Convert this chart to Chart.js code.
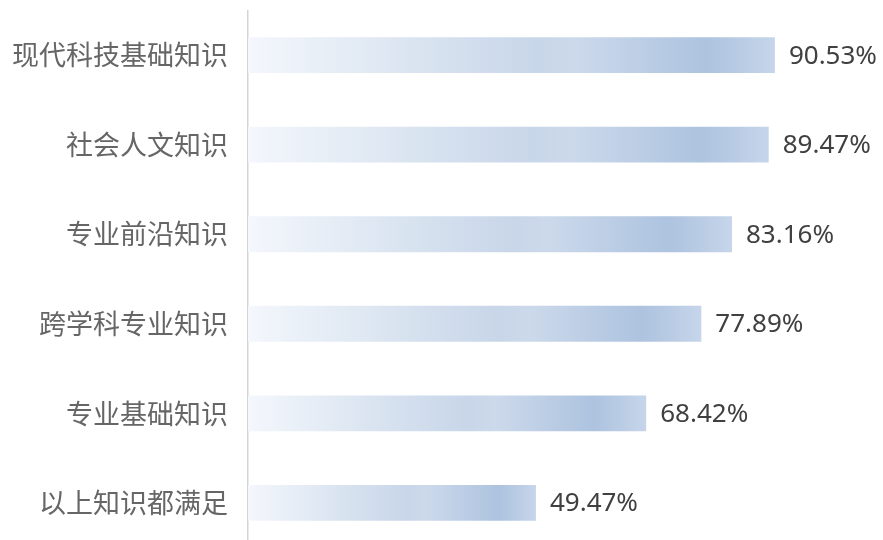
<!DOCTYPE html>
<html>
<head>
<meta charset="utf-8">
<script src="https://cdn.jsdelivr.net/npm/chart.js@4"></script>
<style>
  html, body { margin: 0; padding: 0; background: #fff; overflow: hidden; }
  canvas { display: block; }
</style>
</head>
<body>
<canvas id="knowChart" width="883" height="558"></canvas>
<script>
const categories = ['现代科技基础知识', '社会人文知识', '专业前沿知识', '跨学科专业知识', '专业基础知识', '以上知识都满足'];
const percentages = [90.53, 89.47, 83.16, 77.89, 68.42, 49.47];

// degradado por barra, de casi blanco a azul claro
function barGradient(context) {
    const chart = context.chart;
    const area = chart.chartArea;
    if (!area) return '#c6d5ea';
    const x = chart.scales.x;
    const x0 = x.getPixelForValue(0);
    const x1 = x.getPixelForValue(context.raw);
    const g = chart.ctx.createLinearGradient(x0, 0, x1, 0);
    g.addColorStop(0, '#f4f7fc');
    g.addColorStop(0.3, '#dbe5f1');
    g.addColorStop(0.55, '#c8d6e9');
    g.addColorStop(0.62, '#ccd9eb');
    g.addColorStop(0.87, '#adc3df');
    g.addColorStop(1, '#c6d5ea');
    return g;
}

// etiquetas de valor al final de cada barra
const valueLabels = {
    id: 'valueLabels',
    afterDatasetsDraw(chart) {
        const ctx = chart.ctx;
        const meta = chart.getDatasetMeta(0);
        ctx.save();
        ctx.font = '26px "Noto Sans", "Open Sans", sans-serif';
        ctx.fillStyle = '#404040';
        ctx.textAlign = 'left';
        ctx.textBaseline = 'middle';
        meta.data.forEach((bar, i) => {
            ctx.fillText(percentages[i].toFixed(2) + '%', bar.x + 14, bar.y + 1);
        });
        ctx.restore();
    }
};

new Chart(document.getElementById('knowChart'), {
    type: 'bar',
    data: {
        labels: categories,
        datasets: [{
            data: percentages,
            backgroundColor: barGradient,
            borderWidth: 0,
            categoryPercentage: 0.4,
            barPercentage: 1
        }]
    },
    options: {
        indexAxis: 'y',
        responsive: false,
        animation: false,
        layout: { autoPadding: false, padding: { top: 0, right: 53, bottom: 0, left: 0 } },
        plugins: {
            legend: { display: false },
            tooltip: { enabled: false }
        },
        scales: {
            x: {
                min: 0,
                max: 100,
                display: false
            },
            y: {
                afterFit(scale) { scale.width = 248; },
                grid: { display: false, drawTicks: true, tickLength: 20, tickColor: 'rgba(0,0,0,0)' },
                border: { display: true, color: '#d4d4d4', width: 1.5 },
                ticks: {
                    padding: 0,
                    color: '#666666',
                    font: { family: '"Noto Sans CJK SC", sans-serif', size: 27, lineHeight: 0.77 }
                }
            }
        }
    },
    plugins: [valueLabels]
});
</script>
</body>
</html>
